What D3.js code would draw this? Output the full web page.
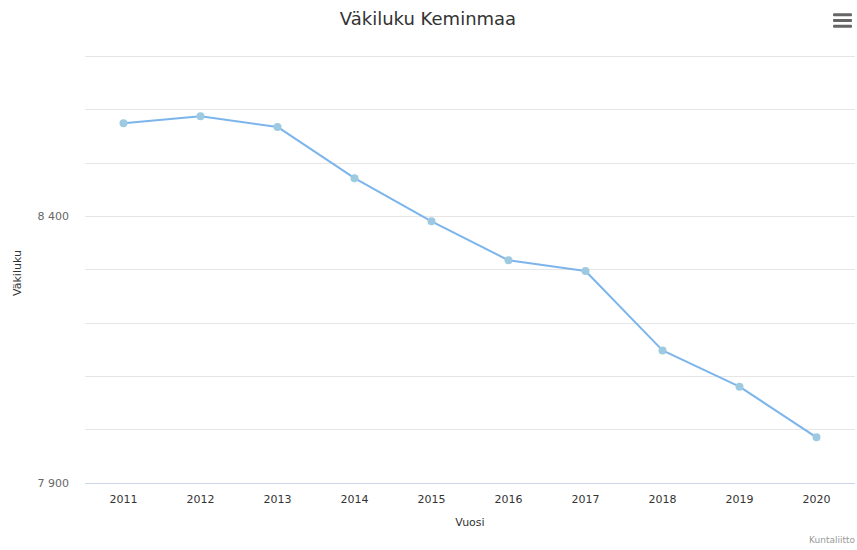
<!DOCTYPE html>
<html><head><meta charset="utf-8">
<script src="https://cdn.jsdelivr.net/npm/d3@7"></script>
<style>body{margin:0;background:#fff}svg{display:block}</style>
</head><body>
<svg id="c" width="857" height="550"></svg>
<script>
const years = ["2011","2012","2013","2014","2015","2016","2017","2018","2019","2020"];
const population = [8574, 8587, 8567, 8471, 8390, 8317, 8297, 8148, 8080, 7985];
const gridTicks = [7900, 8000, 8100, 8200, 8300, 8400, 8500, 8600, 8700];
const labelTicks = [7900, 8400];
const titleText = "Väkiluku Keminmaa";
const yTitle = "Väkiluku";
const xTitle = "Vuosi";
const credit = "Kuntaliitto";

(function () {
const FONT = "'DejaVu Sans', Verdana, sans-serif";
const svg = d3.select("#c");
const pLeft = 85, pRight = 855, pTop = 56, pBottom = 482.7;
const x = d3.scaleBand().domain(years).range([pLeft, pRight]);
const y = d3.scaleLinear().domain([7900, 8700]).range([pBottom, pTop]);

// gridlines
svg.append("g").selectAll("line").data(gridTicks.slice(1)).join("line")
  .attr("x1", pLeft).attr("x2", pRight)
  .attr("y1", d => Math.round(y(d)) + 0.5).attr("y2", d => Math.round(y(d)) + 0.5)
  .attr("stroke", "#e6e6e6").attr("stroke-width", 1);
// axis line
svg.append("line").attr("x1", pLeft).attr("x2", pRight)
  .attr("y1", Math.round(y(7900)) + 0.5).attr("y2", Math.round(y(7900)) + 0.5)
  .attr("stroke", "#ccd6eb").attr("stroke-width", 1);

// y labels
const fmt = d => d3.format(",")(d).replace(/,/g, " ");
svg.append("g").selectAll("text").data(labelTicks).join("text")
  .attr("x", 69).attr("y", d => y(d) + 4)
  .attr("text-anchor", "end").attr("font-family", FONT)
  .attr("font-size", 11).attr("fill", "#666").text(fmt);

// x labels
svg.append("g").selectAll("text").data(years).join("text")
  .attr("x", d => x(d) + x.bandwidth() / 2).attr("y", 503)
  .attr("text-anchor", "middle").attr("font-family", FONT)
  .attr("font-size", 11).attr("fill", "#333").text(d => d);

// axis titles
svg.append("text").attr("x", 470).attr("y", 525.5).attr("text-anchor", "middle")
  .attr("font-family", FONT).attr("font-size", 11).attr("fill", "#333").text(xTitle);
svg.append("text").attr("transform", "translate(20.5,273) rotate(-90)").attr("text-anchor", "middle")
  .attr("font-family", FONT).attr("font-size", 11).attr("fill", "#333").text(yTitle);

// title
svg.append("text").attr("x", 428).attr("y", 25).attr("text-anchor", "middle")
  .attr("font-family", FONT)
  .attr("font-size", 18).attr("fill", "#333").text(titleText);

// line
const line = d3.line().x((d, i) => x(years[i]) + x.bandwidth() / 2).y(d => y(d));
svg.append("path").datum(population).attr("d", line)
  .attr("fill", "none").attr("stroke", "#7cb5ec").attr("stroke-width", 2)
  .attr("stroke-linejoin", "round");
svg.append("g").selectAll("circle").data(population).join("circle")
  .attr("cx", (d, i) => x(years[i]) + x.bandwidth() / 2).attr("cy", d => y(d))
  .attr("r", 4).attr("fill", "#9ecae1");

// menu icon
svg.append("g").selectAll("rect").data([0, 1, 2]).join("rect")
  .attr("x", 833).attr("y", d => 13.3 + d * 5.7).attr("width", 19).attr("height", 3)
  .attr("rx", 1).attr("fill", "#666");

// credit
svg.append("text").attr("x", 855).attr("y", 543).attr("text-anchor", "end")
  .attr("font-family", FONT).attr("font-size", 9).attr("fill", "#999").text(credit);
})();
</script>
</body></html>
